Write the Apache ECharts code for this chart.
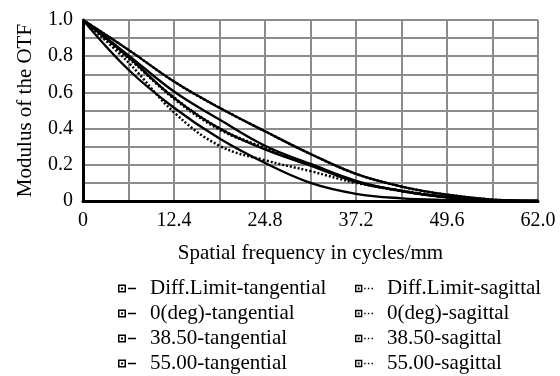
<!DOCTYPE html>
<html>
<head>
<meta charset="utf-8">
<script src="https://cdn.jsdelivr.net/npm/echarts@6/dist/echarts.min.js"></script>
<style>
html,body{margin:0;padding:0;background:#fff;}
#chart{width:560px;height:376px;}
</style>
</head>
<body>
<div id="chart"></div>
<script>
// ---- data ----
const freq = [0, 6.2, 12.4, 18.6, 24.8, 31.0, 37.2, 43.4, 49.6, 55.8, 62.0];
const xTickLabels = ['0', '12.4', '24.8', '37.2', '49.6', '62.0'];
const yTickLabels = ['0', '0.2', '0.4', '0.6', '0.8', '1.0'];
const seriesNames = [
  'Diff.Limit-tangential', 'Diff.Limit-sagittal',
  '0(deg)-tangential', '0(deg)-sagittal',
  '38.50-tangential', '38.50-sagittal',
  '55.00-tangential', '55.00-sagittal'
];
const diffT  = [1, 0.835, 0.66, 0.515, 0.385, 0.26, 0.15, 0.08, 0.035, 0.008, 0];
const diffS  = [1, 0.835, 0.66, 0.515, 0.385, 0.26, 0.15, 0.08, 0.035, 0.008, 0];
const deg0T  = [1, 0.795, 0.57, 0.40, 0.285, 0.195, 0.105, 0.055, 0.022, 0.004, 0];
const deg0S  = [1, 0.79, 0.565, 0.395, 0.29, 0.20, 0.108, 0.055, 0.022, 0.004, 0];
const deg385T = [1, 0.805, 0.605, 0.45, 0.305, 0.205, 0.112, 0.055, 0.02, 0.004, 0];
const deg385S = [1, 0.79, 0.572, 0.402, 0.292, 0.20, 0.108, 0.055, 0.022, 0.004, 0];
const deg55T = [1, 0.725, 0.515, 0.345, 0.21, 0.10, 0.04, 0.015, 0.006, 0.002, 0];
const deg55S = [1, 0.765, 0.49, 0.305, 0.225, 0.165, 0.10, 0.058, 0.022, 0.004, 0];
const seriesValues = [diffT, diffS, deg0T, deg0S, deg385T, deg385S, deg55T, deg55S];

// ---- chart ----
const FONT = '"Liberation Serif", "Times New Roman", serif';
const xStep = 6.2;
const solidIcon = 'path://M0,0H8V8H0Z M1.5,1.5V6.5H6.5V1.5Z M3,3H5V5H3Z M10,3.3H18V4.7H10Z';
const dotIcon = 'path://M0,0H8V8H0Z M1.5,1.5V6.5H6.5V1.5Z M3,3H5V5H3Z M10,3.2H11.6V4.8H10Z M14,3.2H15.6V4.8H14Z M18,3.2H19.6V4.8H18Z';

const series = seriesNames.map((name, i) => {
  const sag = i % 2 === 1;
  return {
    name: name,
    type: 'line',
    data: freq.map((f, j) => [f, seriesValues[i][j]]),
    showSymbol: false,
    symbol: 'none',
    smooth: 0.4,
    color: '#000',
    lineStyle: sag ? { color: '#000', width: 2.5, type: [2, 2] } : { color: '#000', width: 2.3 },
    emphasis: { disabled: true },
    z: sag ? 3 : 2
  };
});

const legendBase = {
  orient: 'vertical',
  top: 278,
  padding: 0,
  height: 98,
  itemWidth: 18,
  itemHeight: 8,
  itemGap: 4,
  textStyle: { fontFamily: FONT, fontSize: 21, color: '#000', lineHeight: 21, padding: [0, 0, 0, 9] },
  selectedMode: false
};

const chart = echarts.init(document.getElementById('chart'), null, { renderer: 'canvas' });
chart.setOption({
  backgroundColor: '#fff',
  animation: false,
  grid: { left: 83, right: 22, top: 20, bottom: 175 },
  xAxis: {
    type: 'value', min: 0, max: 62, interval: xStep,
    name: 'Spatial frequency in cycles/mm', nameLocation: 'middle', nameGap: 42,
    nameTextStyle: { fontFamily: FONT, fontSize: 21, color: '#000' },
    axisLine: { show: true, onZero: false, lineStyle: { color: '#000', width: 3 } },
    axisTick: { show: false },
    axisLabel: {
      fontFamily: FONT, fontSize: 20, color: '#000', margin: 10,
      formatter: v => { const k = Math.round(v / xStep); return k % 2 === 0 ? xTickLabels[k / 2] : ''; }
    },
    splitLine: { show: true, lineStyle: { color: '#8c8c8c', width: 2 } }
  },
  yAxis: {
    type: 'value', min: 0, max: 1, interval: 0.1,
    name: 'Modulus of the OTF', nameLocation: 'middle', nameGap: 47,
    nameTextStyle: { fontFamily: FONT, fontSize: 21, color: '#000' },
    axisLine: { show: true, onZero: false, lineStyle: { color: '#000', width: 3 } },
    axisTick: { show: false },
    axisLabel: {
      fontFamily: FONT, fontSize: 20, color: '#000', margin: 10,
      formatter: v => { const k = Math.round(v * 10); return k % 2 === 0 ? yTickLabels[k / 2] : ''; }
    },
    splitLine: { show: true, lineStyle: { color: '#8c8c8c', width: 2 } }
  },
  legend: [
    Object.assign({}, legendBase, {
      left: 118,
      data: seriesNames.filter((n, i) => i % 2 === 0).map(n => ({ name: n, icon: solidIcon }))
    }),
    Object.assign({}, legendBase, {
      left: 355,
      data: seriesNames.filter((n, i) => i % 2 === 1).map(n => ({ name: n, icon: dotIcon }))
    })
  ],
  series: series
});
</script>
</body>
</html>
